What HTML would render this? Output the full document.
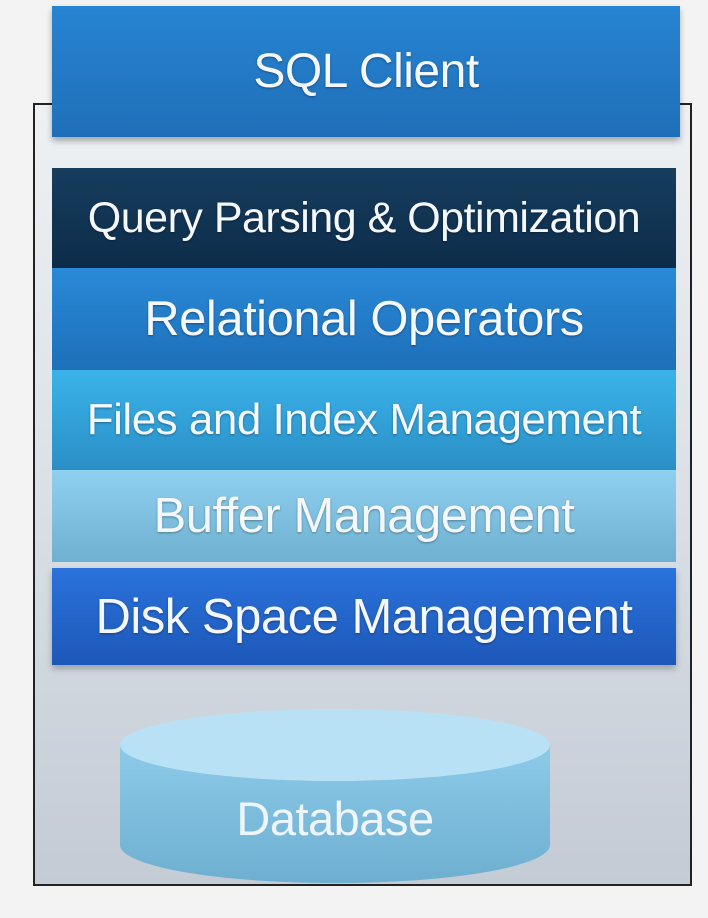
<!DOCTYPE html>
<html><head><style>
body{margin:0;width:708px;height:918px;background:#f3f3f3;position:relative;overflow:hidden;font-family:"Liberation Sans",sans-serif}
.frame{position:absolute;left:33px;top:103px;width:659px;height:783px;border:2px solid #222;background:linear-gradient(#eef1f3,#dfe4e9 40%,#c3cbd5);box-sizing:border-box}
.b{position:absolute;left:52px;width:624px;color:#f4f8fc;text-align:center;display:flex;align-items:center;justify-content:center;letter-spacing:-0.5px;text-shadow:0 1px 2px rgba(0,0,0,.35);white-space:nowrap}
</style></head><body>
<div class="frame"></div>
<div class="b" style="top:6px;height:131px;left:52px;width:628px;font-size:48px;background:linear-gradient(#2784d2,#1f6fb8);box-shadow:0 4px 6px rgba(0,0,0,.3)">SQL Client</div>
<div class="b" style="top:168px;height:100px;font-size:43px;background:linear-gradient(#163d5e,#0d2c49)">Query Parsing &amp; Optimization</div>
<div class="b" style="top:268px;height:102px;font-size:49px;background:linear-gradient(#2a8ad8,#1d6fb9)">Relational Operators</div>
<div class="b" style="top:370px;height:100px;font-size:44px;background:linear-gradient(#3ab3ea,#2a8fc6)">Files and Index Management</div>
<div class="b" style="top:470px;height:92px;font-size:49px;background:linear-gradient(#8fd0f0,#6fb0d0)">Buffer Management</div>
<div class="b" style="top:568px;height:97px;font-size:49px;background:linear-gradient(#2a72dc,#1d58b8);box-shadow:0 4px 6px rgba(0,0,0,.25)">Disk Space Management</div>
<svg style="position:absolute;left:0;top:0" width="708" height="918">
<defs><linearGradient id="c" x1="0" y1="0" x2="0" y2="1"><stop offset="0" stop-color="#8ccbe8"/><stop offset="1" stop-color="#6eaed0"/></linearGradient></defs>
<path d="M120 745 L120 845 A215 38 0 0 0 550 845 L550 745 Z" fill="url(#c)"/>
<ellipse cx="335" cy="745" rx="215" ry="36" fill="#b9e1f5"/>
<text x="335" y="835" text-anchor="middle" font-family="Liberation Sans" font-size="47" letter-spacing="-0.5" fill="#eef6fb">Database</text>
</svg>
</body></html>
